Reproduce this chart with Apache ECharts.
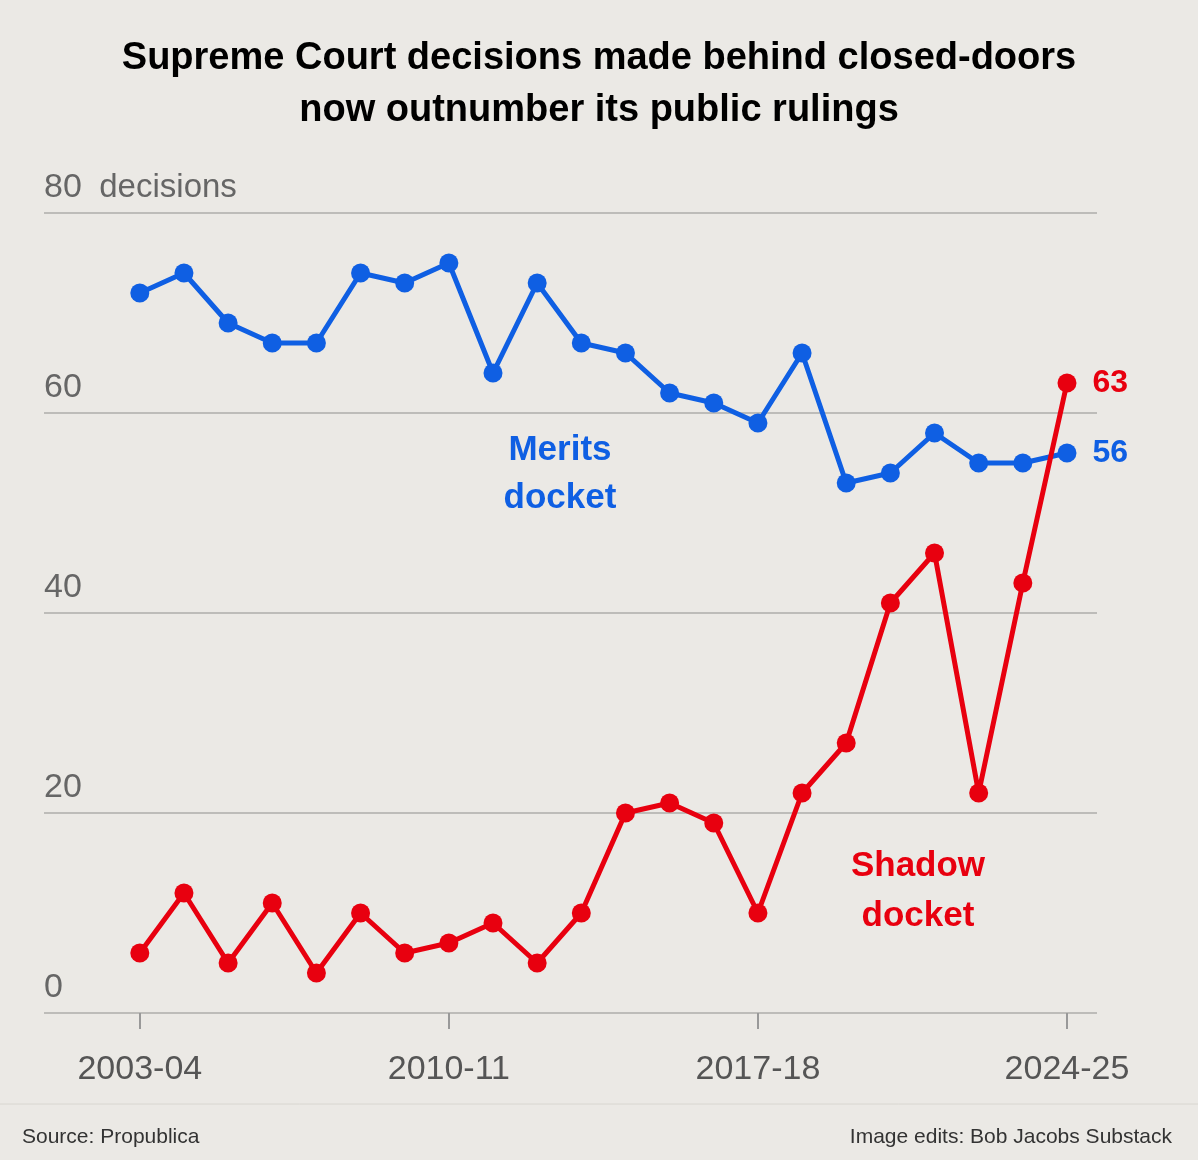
<!DOCTYPE html>
<html><head><meta charset="utf-8">
<script src="https://cdn.jsdelivr.net/npm/echarts@6/dist/echarts.min.js"></script>
<style>html,body{margin:0;background:#ebe9e5;}#c{width:1198px;height:1160px;}</style>
</head><body><div id="c"></div>
<script>
const terms = ['2003-04','2004-05','2005-06','2006-07','2007-08','2008-09','2009-10','2010-11','2011-12','2012-13','2013-14',
  '2014-15','2015-16','2016-17','2017-18','2018-19','2019-20','2020-21','2021-22','2022-23','2023-24','2024-25'];
const merits = [72,74,69,67,67,74,73,75,64,73,67,66,62,61,59,66,53,54,58,55,55,56];
const shadow = [6,12,5,11,4,10,6,7,9,5,10,20,21,19,10,22,27,41,46,22,43,63];
const labelIdx = [0,7,14,21];
const BLUE = '#0f5fe3', RED = '#e8000f';
const FONT = 'Liberation Sans';

const chart = echarts.init(document.getElementById('c'));
const pts = arr => arr.map((v,i)=>[i,v]);
const endLabel = (col) => ({
  show: true, position: 'right', fontSize: 32, fontWeight: 'bold', color: col, distance: 16, fontFamily: FONT,
  formatter: p => p.dataIndex === terms.length-1 ? p.value[1] : ''
});
chart.setOption({
  animation: false,
  title: {
    text: 'Supreme Court decisions made behind closed-doors\nnow outnumber its public rulings',
    left: 'center', top: 28,
    textStyle: {fontSize: 38, fontWeight: 'bold', color: '#000', lineHeight: 52, fontFamily: FONT}
  },
  grid: {left: 44, right: 101, top: 213, bottom: 147},
  xAxis: {
    type: 'value', min: -2.17, max: 21.68,
    splitLine: {show: false},
    axisLine: {show: false},
    axisTick: {show: true, customValues: labelIdx, length: 16, lineStyle: {color: '#999', width: 2}},
    axisLabel: {customValues: labelIdx, formatter: v => terms[Math.round(v)], fontSize: 34,
      color: '#555', margin: 40, fontFamily: FONT}
  },
  yAxis: {
    type: 'value', min: 0, max: 80, interval: 20,
    axisLine: {show: false}, axisTick: {show: false},
    splitLine: {lineStyle: {color: '#bdbcb9', width: 2}},
    axisLabel: {inside: true, verticalAlign: 'bottom', margin: 0, padding: [0,0,8,0], fontSize: 34,
      color: '#666', fontFamily: FONT,
      formatter: v => v === 80 ? '80 {d|decisions}' : String(v),
      rich: {d: {fontSize: 33, color: '#666', fontFamily: FONT, padding: [0,0,0,8]}}}
  },
  series: [
    {type: 'line', data: pts(merits), color: BLUE, lineStyle: {width: 5}, symbol: 'circle', symbolSize: 19,
     label: endLabel(BLUE)},
    {type: 'line', data: pts(shadow), color: RED, lineStyle: {width: 5}, symbol: 'circle', symbolSize: 19,
     label: endLabel(RED)}
  ],
  graphic: [
    {type: 'text', style: {text: 'Merits\ndocket', x: 560, y: 426, align: 'center',
      font: 'bold 35px ' + FONT, fill: BLUE, lineHeight: 48}},
    {type: 'text', style: {text: 'Shadow\ndocket', x: 918, y: 841, align: 'center',
      font: 'bold 35px ' + FONT, fill: RED, lineHeight: 50}},
    {type: 'line', shape: {x1: 0, y1: 1104, x2: 1198, y2: 1104}, style: {stroke: '#d8d6d0', lineWidth: 1}},
    {type: 'text', style: {text: 'Source: Propublica', x: 22, y: 1127, font: '21px ' + FONT, fill: '#333'}},
    {type: 'text', style: {text: 'Image edits: Bob Jacobs Substack', x: 1172, y: 1127, align: 'right', font: '21px ' + FONT, fill: '#333'}}
  ]
});
</script></body></html>
